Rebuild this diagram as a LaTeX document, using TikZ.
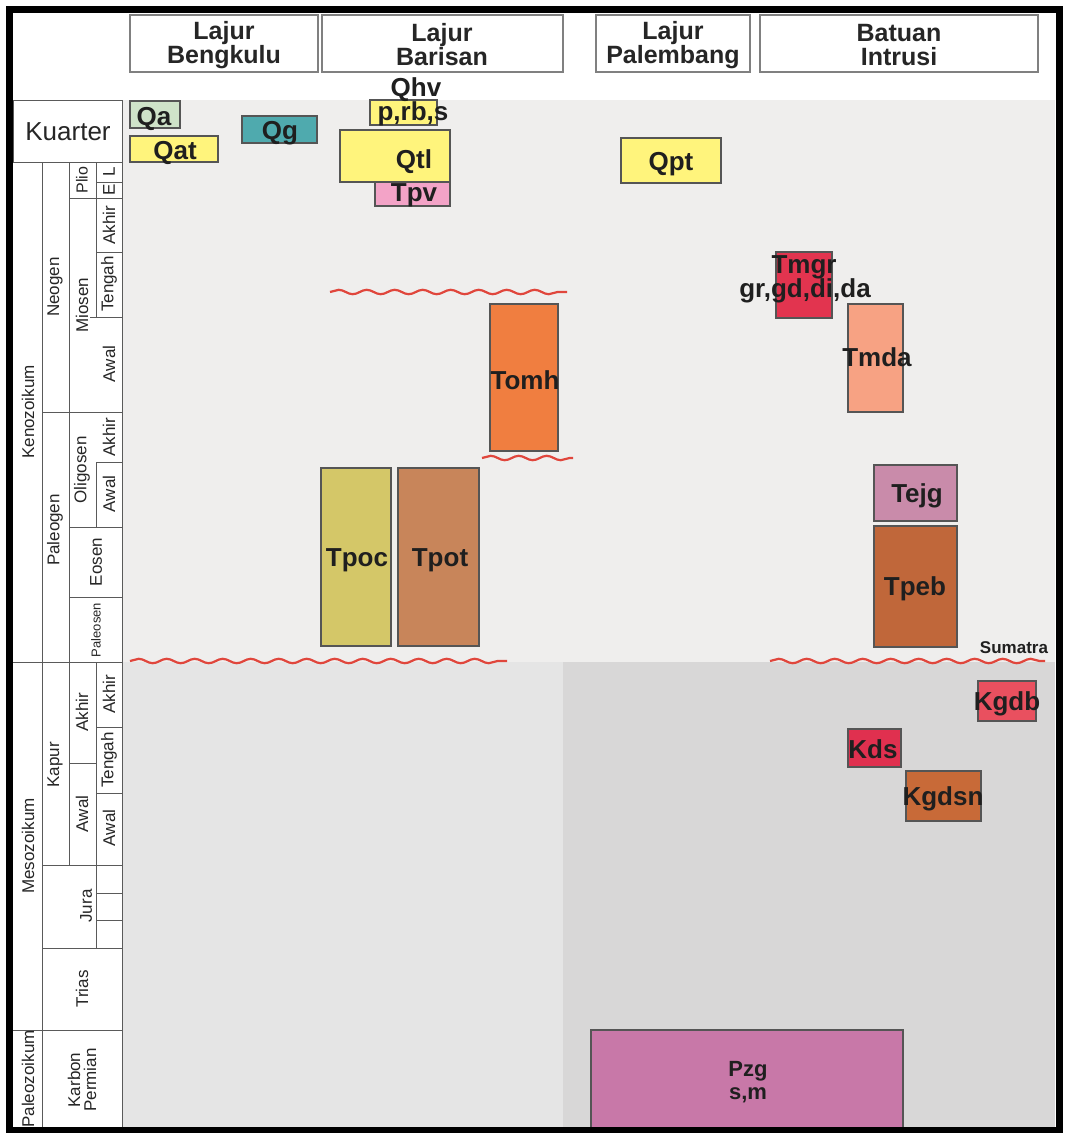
\documentclass[tikz,border=0pt]{standalone}
\usepackage{fontspec}
\setmainfont{Liberation Sans}
\usetikzlibrary{decorations.pathmorphing}
\definecolor{BoxLine}{RGB}{85,85,85}
\definecolor{GridGrey}{RGB}{90,90,90}
\definecolor{UpperGrey}{RGB}{239,238,237}
\definecolor{LowerLeftGrey}{RGB}{229,229,229}
\definecolor{LowerRightGrey}{RGB}{216,215,215}
\definecolor{UnconfRed}{RGB}{224,70,60}
\definecolor{QaGreen}{RGB}{207,227,201}
\definecolor{QYellow}{RGB}{255,244,124}
\definecolor{QgTeal}{RGB}{79,170,174}
\definecolor{TpvPink}{RGB}{243,163,199}
\definecolor{TmgrRed}{RGB}{226,52,79}
\definecolor{TmdaSalmon}{RGB}{247,162,131}
\definecolor{TomhOrange}{RGB}{240,126,64}
\definecolor{TpocOlive}{RGB}{212,199,104}
\definecolor{TpotTan}{RGB}{200,133,90}
\definecolor{TejgMauve}{RGB}{201,139,170}
\definecolor{TpebBrown}{RGB}{192,103,58}
\definecolor{KgdbRed}{RGB}{233,80,95}
\definecolor{KdsRed}{RGB}{224,48,79}
\definecolor{KgdsnBrown}{RGB}{200,106,56}
\definecolor{PzgMagenta}{RGB}{200,120,168}

\tikzset{
  unitbox/.style={draw=BoxLine,line width=1.2},
  unitlabel/.style={anchor=base,inner sep=0pt,text=black!88,font=\fontsize{26}{26}\selectfont\bfseries},
  header/.style={inner sep=0pt,align=center,text=black!85,font=\fontsize{25}{24}\selectfont\bfseries},
  agelabel/.style={rotate=90,inner sep=0pt,align=center,text=black!85,font=\fontsize{17}{16}\selectfont},
  gridline/.style={GridGrey,line width=0.9},
  unconformity/.style={UnconfRed,line width=2.2,decorate,decoration={snake,amplitude=2.2,segment length=28}},
}

\begin{document}
\begin{tikzpicture}[x=1pt,y=-1pt]
\useasboundingbox (0,0) rectangle (1066,1133);
\fill[white] (0,0) rectangle (1066,1133);

% background bands
\fill[UpperGrey] (122,100) rectangle (1055,662);
\fill[LowerLeftGrey] (122,662) rectangle (563,1130);
\fill[LowerRightGrey] (563,662) rectangle (1055,1130);

% column headers
\draw[unitbox,draw=gray,fill=white] (130,15) rectangle (318,72);
\draw[unitbox,draw=gray,fill=white] (322,15) rectangle (563,72);
\draw[unitbox,draw=gray,fill=white] (596,15) rectangle (750,72);
\draw[unitbox,draw=gray,fill=white] (760,15) rectangle (1038,72);
\node[header] (bengkulu) at (224,45) {Lajur\\Bengkulu};
\node[header] (barisan) at (442,45) {Lajur\\Barisan};
\node[header] (palembang) at (673,45) {Lajur\\Palembang};
\node[header] (intrusi) at (899,45) {Batuan\\Intrusi};

% time scale
\fill[white] (13,100) rectangle (122,1130);
\draw[gridline] (13,100) rectangle (122,162);
\draw[gridline] (122,100) -- (122,1130);
\draw[gridline] (42,162) -- (42,1130);
\draw[gridline] (69,162) -- (69,865);
\draw[gridline] (96,162) -- (96,317);
\draw[gridline] (96,462) -- (96,527);
\draw[gridline] (96,662) -- (96,948);
\draw[gridline] (13,662) -- (122,662);
\draw[gridline] (13,1030) -- (122,1030);
\foreach \y in {412,865,948} \draw[gridline] (42,\y) -- (122,\y);
\foreach \y in {198,527,597} \draw[gridline] (69,\y) -- (122,\y);
\foreach \y in {182,252,462,727,793,893,920} \draw[gridline] (96,\y) -- (122,\y);
\draw[gridline] (90,317) -- (122,317);
\draw[gridline] (69,763) -- (96,763);

\node[font=\fontsize{26}{26}\selectfont,text=black!85] (kuarter) at (68,132) {Kuarter};
\node[agelabel] (kenozoikum) at (28,412) {Kenozoikum};
\node[agelabel] (mesozoikum) at (28,846) {Mesozoikum};
\node[agelabel] (paleozoikum) at (28,1079) {Paleozoikum};
\node[agelabel] (neogen) at (55,287) {Neogen};
\node[agelabel] (paleogen) at (55,530) {Paleogen};
\node[agelabel] (kapur) at (55,765) {Kapur};
\node[agelabel] (jura) at (86,906) {Jura};
\node[agelabel] (trias) at (82,989) {Trias};
\node[agelabel] (karbon) at (82,1080) {Karbon\\Permian};
\node[agelabel,font=\fontsize{16}{16}\selectfont] (plio) at (82,180) {Plio};
\node[agelabel] (miosen) at (82,305) {Miosen};
\node[agelabel] (oligosen) at (82,470) {Oligosen};
\node[agelabel] (eosen) at (96,562) {Eosen};
\node[agelabel,font=\fontsize{13}{13}\selectfont] (paleosen) at (96,630) {Paleosen};
\node[agelabel] (kapurakhir) at (82,712) {Akhir};
\node[agelabel] (kapurawal) at (82,814) {Awal};
\node[agelabel] (plioL) at (109,172) {L};
\node[agelabel] (plioE) at (109,190) {E};
\node[agelabel] (mioakhir) at (109,225) {Akhir};
\node[agelabel] (miotengah) at (109,284) {Tengah};
\node[agelabel] (mioawal) at (109,364) {Awal};
\node[agelabel] (oliakhir) at (109,437) {Akhir};
\node[agelabel] (oliawal) at (109,494) {Awal};
\node[agelabel] (kakhir) at (109,694) {Akhir};
\node[agelabel] (ktengah) at (109,760) {Tengah};
\node[agelabel] (kawal) at (109,828) {Awal};

% rock units
\draw[unitbox,fill=QaGreen] (130,101) rectangle (180,128);
\draw[unitbox,fill=QYellow] (130,136) rectangle (218,162);
\draw[unitbox,fill=QgTeal] (242,116) rectangle (317,143);
\draw[unitbox,fill=QYellow] (370,100) rectangle (437,125);
\draw[unitbox,fill=QYellow] (340,130) rectangle (450,182);
\draw[unitbox,fill=TpvPink] (375,182) rectangle (450,206);
\draw[unitbox,fill=QYellow] (621,138) rectangle (721,183);
\draw[unitbox,fill=TmgrRed] (776,252) rectangle (832,318);
\draw[unitbox,fill=TmdaSalmon] (848,304) rectangle (903,412);
\draw[unitbox,fill=TomhOrange] (490,304) rectangle (558,451);
\draw[unitbox,fill=TpocOlive] (321,468) rectangle (391,646);
\draw[unitbox,fill=TpotTan] (398,468) rectangle (479,646);
\draw[unitbox,fill=TejgMauve] (874,465) rectangle (957,521);
\draw[unitbox,fill=TpebBrown] (874,526) rectangle (957,647);
\draw[unitbox,fill=KgdbRed] (978,681) rectangle (1036,721);
\draw[unitbox,fill=KdsRed] (848,729) rectangle (901,767);
\draw[unitbox,fill=KgdsnBrown] (906,771) rectangle (981,821);
\draw[unitbox,fill=PzgMagenta] (591,1030) rectangle (903,1131);

\node[unitlabel] (qa) at (154,125) {Qa};
\node[unitlabel] (qat) at (175,159) {Qat};
\node[unitlabel] (qg) at (280,139) {Qg};
\node[unitlabel] (qhv) at (416,96) {Qhv};
\node[unitlabel] (prbs) at (413,120) {p,rb,s};
\node[unitlabel] (qtl) at (414,168) {Qtl};
\node[unitlabel] (tpv) at (414,201) {Tpv};
\node[unitlabel] (qpt) at (671,170) {Qpt};
\node[unitlabel] (tmgr) at (804,273) {Tmgr};
\node[unitlabel] (tmgrrocks) at (805,297) {gr,gd,di,da};
\node[unitlabel] (tmda) at (877,366) {Tmda};
\node[unitlabel] (tomh) at (525,389) {Tomh};
\node[unitlabel] (tpoc) at (357,566) {Tpoc};
\node[unitlabel] (tpot) at (440,566) {Tpot};
\node[unitlabel] (tejg) at (917,502) {Tejg};
\node[unitlabel] (tpeb) at (915,595) {Tpeb};
\node[unitlabel] (kgdb) at (1007,710) {Kgdb};
\node[unitlabel] (kds) at (873,758) {Kds};
\node[unitlabel] (kgdsn) at (943,805) {Kgdsn};
\node[unitlabel,font=\fontsize{22}{22}\selectfont\bfseries] (pzg) at (748,1076) {Pzg};
\node[unitlabel,font=\fontsize{22}{22}\selectfont\bfseries] (pzgrocks) at (748,1099) {s,m};

% unconformities
\draw[unconformity] (330,292) -- (567,292);
\draw[unconformity] (482,458) -- (573,458);
\draw[unconformity] (130,661) -- (507,661);
\draw[unconformity] (770,661) -- (1045,661);
\node[unitlabel,font=\fontsize{17}{17}\selectfont\bfseries] (sumatra) at (1014,653) {Sumatra};

% frame
\draw[black,line width=7] (9,9) rectangle (1059,1130);
\end{tikzpicture}
\end{document}
